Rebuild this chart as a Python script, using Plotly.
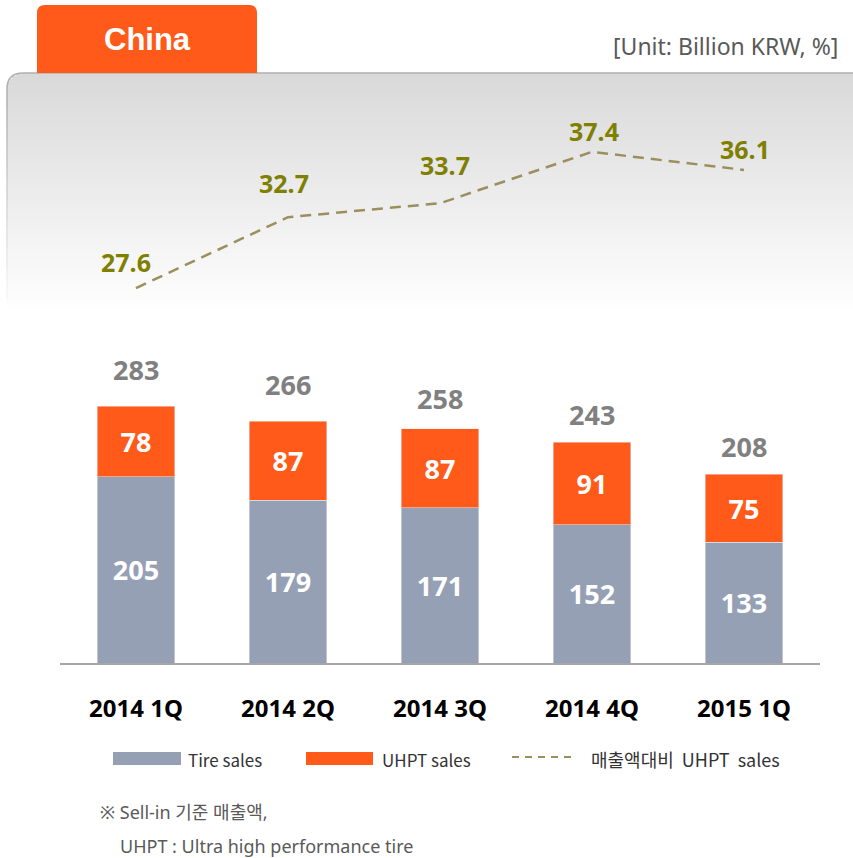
import plotly.graph_objects as go

# ---- data ----
categories = ["2014 1Q", "2014 2Q", "2014 3Q", "2014 4Q", "2015 1Q"]
tire_sales = [205, 179, 171, 152, 133]
uhpt_sales = [78, 87, 87, 91, 75]
totals = [283, 266, 258, 243, 208]
uhpt_ratio = [27.6, 32.7, 33.7, 37.4, 36.1]
series_names = ["Tire sales", "UHPT sales", "매출액대비\u00a0 UHPT\u00a0 sales"]

# label offsets (pixels) - purely positional styling
total_yshift = [37, 37, 30, 28, 28]
ratio_yshift = [26, 34, 38, 21, 21]
ratio_xshift = [-10, -4, 5, 2, 1]

W, H = 853, 858
def px(x):
    return x / W
def py(y):
    return 1 - y / H

GRAY = "#96A0B4"
ORANGE = "#FF5A1A"
OLIVE = "#7F7F00"
LINEC = "#9C8F5E"
FONT = "Noto Sans, Noto Sans CJK KR, sans-serif"
KFONT = "Noto Sans CJK KR, Noto Sans, sans-serif"

fig = go.Figure()

fig.add_trace(go.Bar(
    x=categories, y=tire_sales, name=series_names[0], marker_color=GRAY,
    width=0.51, text=[str(v) for v in tire_sales], textposition="inside",
    insidetextanchor="middle", textangle=0,
    textfont=dict(color="white", size=27, family=FONT, weight="bold"),
    constraintext="none", showlegend=False,
))
fig.add_trace(go.Bar(
    x=categories, y=uhpt_sales, name=series_names[1], marker_color=ORANGE,
    width=0.51, text=[str(v) for v in uhpt_sales], textposition="inside",
    insidetextanchor="middle", textangle=0,
    textfont=dict(color="white", size=27, family=FONT, weight="bold"),
    constraintext="none", showlegend=False,
))
fig.add_trace(go.Scatter(
    x=categories, y=uhpt_ratio, name=series_names[2], mode="lines",
    line=dict(color=LINEC, width=2.5, dash="11px,7px"),
    yaxis="y2", showlegend=False, cliponaxis=False,
))

annotations = []
for c, t, ys in zip(categories, totals, total_yshift):
    annotations.append(dict(x=c, y=t, xref="x", yref="y", text=str(t),
                            showarrow=False, yanchor="middle", yshift=ys,
                            font=dict(size=27, color="#808080", family=FONT, weight="bold")))
for c, r, ys, xs in zip(categories, uhpt_ratio, ratio_yshift, ratio_xshift):
    annotations.append(dict(x=c, y=r, xref="x", yref="y2", text=f"{r:.1f}",
                            showarrow=False, yanchor="middle", yshift=ys, xshift=xs,
                            font=dict(size=25, color=OLIVE, family=FONT, weight="bold")))

# header texts
annotations.append(dict(x=px(147), y=py(40), xref="paper", yref="paper", text="China",
                        showarrow=False, xanchor="center", yanchor="middle",
                        font=dict(size=31, color="white", family="Liberation Sans, Arial", weight="bold")))
annotations.append(dict(x=px(840), y=py(46), xref="paper", yref="paper",
                        text="[Unit: Billion KRW, %]", showarrow=False,
                        xanchor="right", yanchor="middle",
                        font=dict(size=23, color="#595959", family=FONT)))

# legend (manual)
leg_y = 759
annotations.append(dict(x=px(186), y=py(leg_y), xref="paper", yref="paper", text=series_names[0],
                        showarrow=False, xanchor="left", yanchor="middle",
                        font=dict(size=17, color="#333333", family=KFONT)))
annotations.append(dict(x=px(380), y=py(leg_y), xref="paper", yref="paper", text=series_names[1],
                        showarrow=False, xanchor="left", yanchor="middle",
                        font=dict(size=17, color="#333333", family=KFONT)))
annotations.append(dict(x=px(589), y=py(leg_y), xref="paper", yref="paper", text=series_names[2],
                        showarrow=False, xanchor="left", yanchor="middle",
                        font=dict(size=18, color="#333333", family=KFONT)))
# footnote
annotations.append(dict(x=px(98), y=py(812), xref="paper", yref="paper", text="※ Sell-in 기준 매출액,",
                        showarrow=False, xanchor="left", yanchor="middle",
                        font=dict(size=18, color="#595959", family=FONT)))
annotations.append(dict(x=px(118), y=py(846), xref="paper", yref="paper",
                        text="UHPT : Ultra high performance tire",
                        showarrow=False, xanchor="left", yanchor="middle",
                        font=dict(size=18, color="#595959", family=FONT)))

shapes = []
# gradient background panel (stripes) with rounded top-left corner
top, bot, left, r = 73, 330, 7, 16
step = 3
n = (bot - top) // step
for i in range(n):
    y0 = top + i * step
    y1 = y0 + step
    dy = y0 - top
    if dy < r:
        x0 = left + r - (r * r - (r - dy - step / 2) ** 2) ** 0.5
    else:
        x0 = left
    t = i / (n - 1)
    g = int(round(217 + (255 - 217) * min(1.0, t * 1.05)))
    col = f"rgb({g},{g},{g})"
    shapes.append(dict(type="rect", xref="paper", yref="paper", layer="below",
                       x0=px(x0), x1=px(W + 2), y0=py(y1), y1=py(y0),
                       fillcolor=col, line=dict(width=0)))
# border of panel (top + corner)
path = (f"M {px(left)},{py(top + r + 10)} L {px(left)},{py(top + r)} "
        f"Q {px(left)},{py(top)} {px(left + r)},{py(top)} L {px(W + 2)},{py(top)}")
shapes.append(dict(type="path", xref="paper", yref="paper", layer="below", path=path,
                   line=dict(color="#B0B0B0", width=1.5)))
# fading left edge
seg = 10
for k in range(0, 200, seg):
    yy0 = top + r + 10 + k
    g = int(round(176 + (250 - 176) * k / 200))
    shapes.append(dict(type="line", xref="paper", yref="paper", layer="below",
                       x0=px(left), x1=px(left), y0=py(yy0), y1=py(yy0 + seg),
                       line=dict(color=f"rgb({g},{g},{g})", width=1.5)))
# orange tab
tr = 8
tab = (f"M {px(37)},{py(73)} L {px(37)},{py(5 + tr)} Q {px(37)},{py(5)} {px(37 + tr)},{py(5)} "
       f"L {px(257 - tr)},{py(5)} Q {px(257)},{py(5)} {px(257)},{py(5 + tr)} L {px(257)},{py(73)} Z")
shapes.append(dict(type="path", xref="paper", yref="paper", layer="below", path=tab,
                   fillcolor=ORANGE, line=dict(width=0)))
# legend swatches
shapes.append(dict(type="rect", xref="paper", yref="paper", x0=px(113), x1=px(181),
                   y0=py(765), y1=py(752), fillcolor=GRAY, line=dict(width=0)))
shapes.append(dict(type="rect", xref="paper", yref="paper", x0=px(306), x1=px(373),
                   y0=py(765), y1=py(752), fillcolor=ORANGE, line=dict(width=0)))
shapes.append(dict(type="line", xref="paper", yref="paper", x0=px(512), x1=px(576),
                   y0=py(757), y1=py(757), line=dict(color=LINEC, width=2, dash="7px,6px")))

fig.update_layout(
    width=W, height=H, margin=dict(l=0, r=0, t=0, b=0),
    paper_bgcolor="white", plot_bgcolor="rgba(0,0,0,0)",
    barmode="stack", showlegend=False,
    font=dict(family=FONT),
    xaxis=dict(domain=[px(60), px(820)], range=[-0.5, 4.5], type="category",
               showgrid=False, zeroline=False, showline=True, linecolor="#A6A6A6", linewidth=2,
               ticks="", ticklabelstandoff=23,
               tickfont=dict(size=24, color="black", family=FONT, weight="bold")),
    yaxis=dict(domain=[py(663), py(340)], range=[0, 323 / 0.908], visible=False),
    yaxis2=dict(domain=[py(330), py(100)], range=[24.58, 41.13], visible=False, anchor="x"),
    annotations=annotations, shapes=shapes,
)

fig.write_html("out.html", config={"displayModeBar": False},
               post_script="document.body.style.margin='0';")
